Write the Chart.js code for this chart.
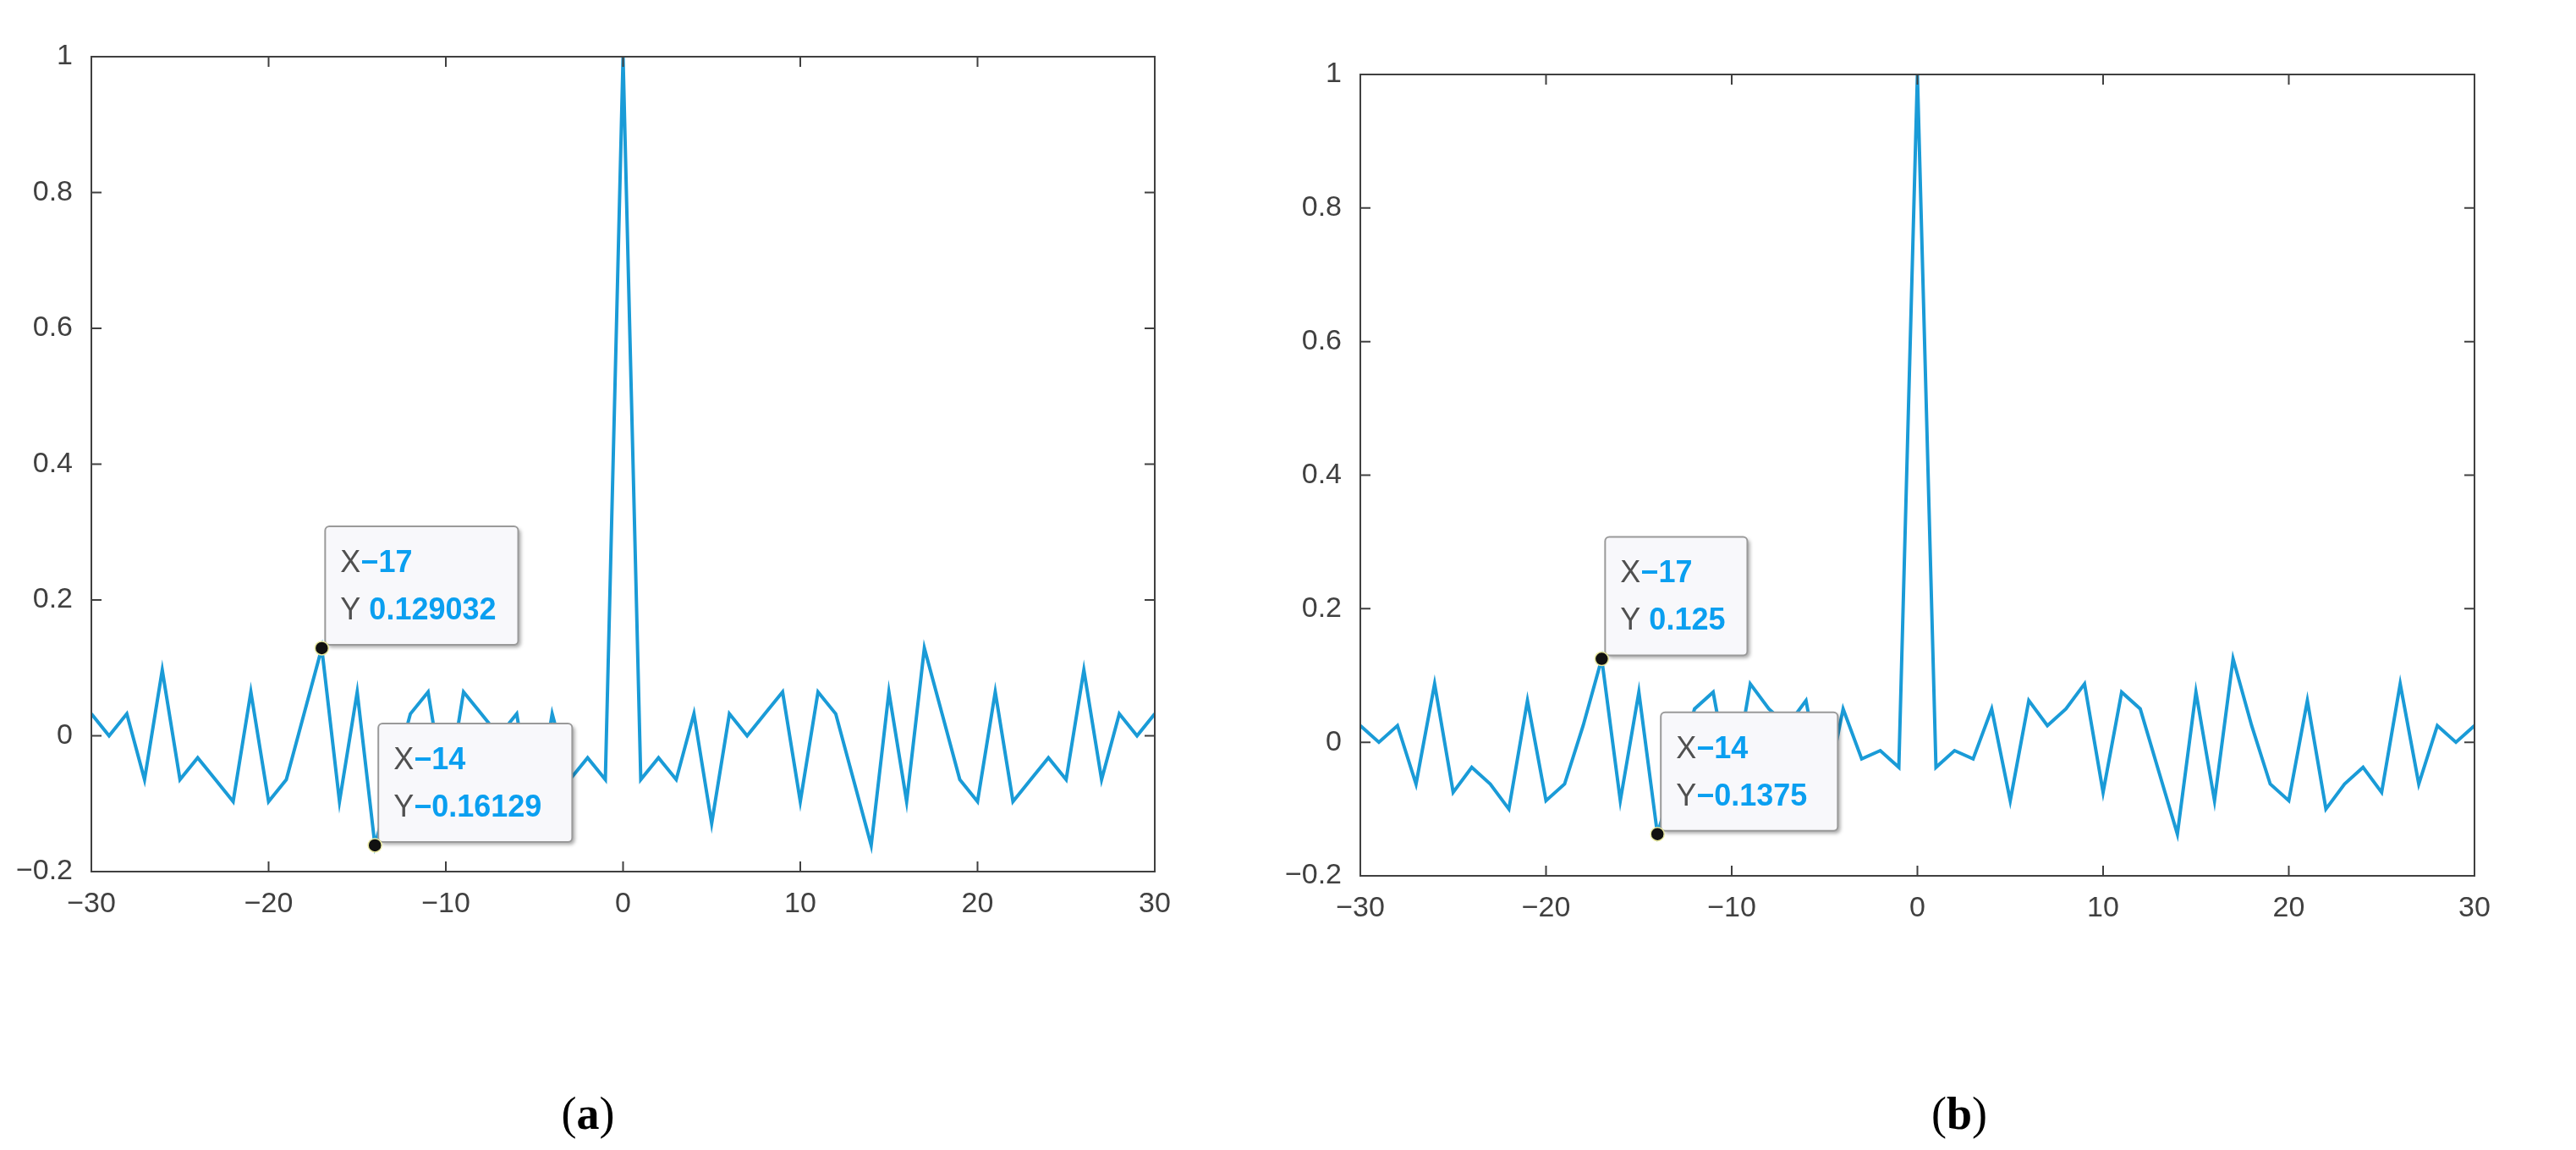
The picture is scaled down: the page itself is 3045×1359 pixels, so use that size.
<!DOCTYPE html>
<html>
<head>
<meta charset="utf-8">
<script src="https://cdn.jsdelivr.net/npm/chart.js@4"></script>
<style>
  body { margin: 0; background: #fff; width: 3045px; height: 1359px; position: relative; overflow: hidden; }
  .box { position: absolute; }
  .cap { position: absolute; font-family: "Liberation Serif", serif; font-size: 54px; color: #000; transform: translate(-50%, -50%); }
  .cap b { font-weight: bold; }
</style>
</head>
<body>
<div class="box" style="left:0;top:0;width:1400px;height:1100px"><canvas id="chartA"></canvas></div>
<div class="box" style="left:1500px;top:0;width:1500px;height:1100px"><canvas id="chartB"></canvas></div>
<div class="cap" style="left:695px;top:1316px">(<b>a</b>)</div>
<div class="cap" style="left:2316px;top:1316px">(<b>b</b>)</div>
<script>
// lag values shared by both panels
const lags = [-30, -29, -28, -27, -26, -25, -24, -23, -22, -21, -20, -19, -18, -17, -16, -15, -14, -13, -12, -11, -10,
  -9, -8, -7, -6, -5, -4, -3, -2, -1, 0, 1, 2, 3, 4, 5, 6, 7, 8, 9, 10,
  11, 12, 13, 14, 15, 16, 17, 18, 19, 20, 21, 22, 23, 24, 25, 26, 27, 28, 29, 30];

// panel (a)
const valuesA = [0.0323, 0, 0.0323, -0.0645, 0.0968, -0.0645, -0.0323, -0.0645, -0.0968, 0.0645,
  -0.0968, -0.0645, 0.0323, 0.129032, -0.0968, 0.0645, -0.16129, -0.0645, 0.0323, 0.0645,
  -0.0968, 0.0645, 0.0323, 0, 0.0323, -0.129, 0.0323, -0.0645, -0.0323, -0.0645,
  1,
  -0.0645, -0.0323, -0.0645, 0.0323, -0.129, 0.0323, 0, 0.0323, 0.0645, -0.0968,
  0.0645, 0.0323, -0.0645, -0.16129, 0.0645, -0.0968, 0.129032, 0.0323, -0.0645, -0.0968,
  0.0645, -0.0968, -0.0645, -0.0323, -0.0645, 0.0968, -0.0645, 0.0323, 0, 0.0323];

// panel (b)
const valuesB = [0.025, 0, 0.025, -0.0625, 0.0875, -0.075, -0.0375, -0.0625, -0.1, 0.0625,
  -0.0875, -0.0625, 0.025, 0.125, -0.0875, 0.075, -0.1375, -0.0438, 0.05, 0.075,
  -0.075, 0.0875, 0.05, 0.025, 0.0625, -0.0875, 0.05, -0.025, -0.0125, -0.0375,
  1,
  -0.0375, -0.0125, -0.025, 0.05, -0.0875, 0.0625, 0.025, 0.05, 0.0875, -0.075,
  0.075, 0.05, -0.0438, -0.1375, 0.075, -0.0875, 0.125, 0.025, -0.0625, -0.0875,
  0.0625, -0.1, -0.0625, -0.0375, -0.075, 0.0875, -0.0625, 0.025, 0, 0.025];

const xTicks = [-30, -20, -10, 0, 10, 20, 30];
const yTicks = [-0.2, 0, 0.2, 0.4, 0.6, 0.8, 1];

// data tips: [x, y, label]
const tipsA = [[-17, 0.129032, "0.129032"], [-14, -0.16129, "-0.16129"]];
const tipsB = [[-17, 0.125, "0.125"], [-14, -0.1375, "-0.1375"]];

const lineColor = "#1a9bd7";
const axisColor = "#404040";

// box around the axes with inward ticks, like MATLAB
const boxPlugin = {
  id: "box",
  afterDraw(chart) {
    const { ctx, chartArea: a, scales } = chart;
    ctx.save();
    ctx.strokeStyle = axisColor;
    ctx.lineWidth = 2;
    ctx.strokeRect(a.left, a.top, a.right - a.left, a.bottom - a.top);
    const len = 12;
    ctx.beginPath();
    xTicks.forEach((t) => {
      const px = scales.x.getPixelForValue(t);
      ctx.moveTo(px, a.bottom); ctx.lineTo(px, a.bottom - len);
      ctx.moveTo(px, a.top); ctx.lineTo(px, a.top + len);
    });
    yTicks.forEach((t) => {
      const py = scales.y.getPixelForValue(t);
      ctx.moveTo(a.left, py); ctx.lineTo(a.left + len, py);
      ctx.moveTo(a.right, py); ctx.lineTo(a.right - len, py);
    });
    ctx.stroke();
    ctx.restore();
  },
};

// MATLAB style data tips
const tipPlugin = {
  id: "tips",
  afterDraw(chart, args, opts) {
    const { ctx, scales } = chart;
    (opts.tips || []).forEach(([x, y, label]) => {
      const px = scales.x.getPixelForValue(x);
      const py = scales.y.getPixelForValue(y);
      ctx.save();
      const font = '36px "Liberation Sans", Arial, sans-serif';
      const bold = 'bold 36px "Liberation Sans", Arial, sans-serif';
      ctx.font = bold;
      const w1 = ctx.measureText(String(x).replace("-", "\u2212")).width;
      const w2 = ctx.measureText(label.replace("-", "\u2212")).width;
      ctx.font = font;
      const wx = ctx.measureText("X").width;
      const wy = ctx.measureText("Y ").width;
      const w = Math.max(wx + w1, wy + w2) + 44;
      const h = 140;
      const bx = px + 4, by = py - 4 - h;
      ctx.shadowColor = "rgba(0,0,0,0.35)";
      ctx.shadowOffsetX = 3; ctx.shadowOffsetY = 3; ctx.shadowBlur = 4;
      ctx.fillStyle = "#f8f8fb";
      ctx.beginPath();
      ctx.roundRect(bx, by, w, h, 5);
      ctx.fill();
      ctx.shadowColor = "transparent";
      ctx.strokeStyle = "#9a9a9a";
      ctx.lineWidth = 2;
      ctx.stroke();
      ctx.textBaseline = "middle";
      ctx.fillStyle = "#505050";
      ctx.font = font;
      ctx.fillText("X", bx + 18, by + 44);
      ctx.fillText("Y", bx + 18, by + 100);
      ctx.fillStyle = "#0a9ff0";
      ctx.font = bold;
      ctx.fillText(String(x).replace("-", "\u2212"), bx + 18 + wx, by + 44);
      const yoff = label.startsWith("-") ? wx : wy;
      ctx.fillText(label.replace("-", "\u2212"), bx + 18 + yoff, by + 100);
      ctx.beginPath();
      ctx.arc(px, py, 8, 0, Math.PI * 2);
      ctx.fillStyle = "#111";
      ctx.fill();
      ctx.strokeStyle = "#e8e8a0";
      ctx.lineWidth = 1.5;
      ctx.stroke();
      ctx.restore();
    });
  },
};

function makeChart(id, values, tips, pad, yWidth, xHeight) {
  const ctx = document.getElementById(id).getContext("2d");
  return new Chart(ctx, {
    type: "line",
    data: {
      datasets: [
        {
          data: lags.map((x, i) => ({ x: x, y: values[i] })),
          borderColor: lineColor,
          borderWidth: 4,
          pointRadius: 0,
          tension: 0,
        },
      ],
    },
    options: {
      responsive: true,
      maintainAspectRatio: false,
      animation: false,
      layout: { padding: pad },
      plugins: { legend: { display: false }, tooltip: { enabled: false }, tips: { tips: tips } },
      scales: {
        x: {
          type: "linear",
          min: -30,
          max: 30,
          afterBuildTicks: (s) => { s.ticks = xTicks.map((v) => ({ value: v })); },
          afterFit: (s) => { s.height = xHeight; },
          grid: { display: false },
          border: { display: false },
          ticks: {
            color: axisColor,
            font: { size: 34, family: '"Liberation Sans", Arial, sans-serif' },
            padding: 10,
            maxRotation: 0,
            callback: (v) => String(v).replace("-", "\u2212"),
          },
        },
        y: {
          min: -0.2,
          max: 1,
          afterBuildTicks: (s) => { s.ticks = yTicks.map((v) => ({ value: v })); },
          afterFit: (s) => { s.width = yWidth; },
          grid: { display: false },
          border: { display: false },
          ticks: {
            color: axisColor,
            font: { size: 34, family: '"Liberation Sans", Arial, sans-serif' },
            padding: 14,
            callback: (v) => String(Math.round(v * 10) / 10).replace("-", "\u2212"),
          },
        },
      },
    },
    plugins: [boxPlugin, tipPlugin],
  });
}

makeChart("chartA", valuesA, tipsA, { top: 67, right: 35, left: 0, bottom: 0 }, 108, 70);
makeChart("chartB", valuesB, tipsB, { top: 88, right: 75, left: 0, bottom: 0 }, 108, 65);
</script>
</body>
</html>
